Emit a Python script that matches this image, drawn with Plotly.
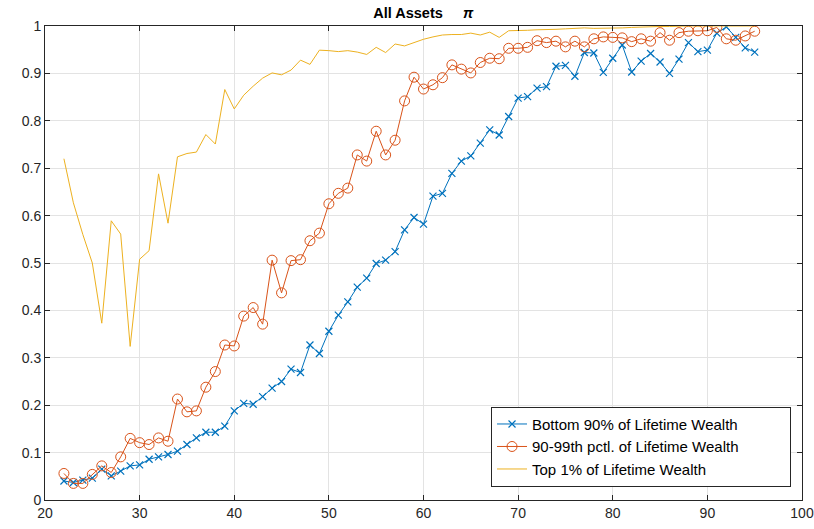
import plotly.graph_objects as go

ages = list(range(22, 96))

bottom90 = [0.040, 0.037, 0.042, 0.046, 0.065, 0.051, 0.061, 0.072, 0.074, 0.086,
            0.091, 0.096, 0.103, 0.117, 0.131, 0.143, 0.143, 0.156, 0.188, 0.204,
            0.202, 0.218, 0.236, 0.250, 0.276, 0.269, 0.327, 0.309, 0.356, 0.390,
            0.418, 0.449, 0.468, 0.499, 0.506, 0.524, 0.570, 0.596, 0.582, 0.641,
            0.647, 0.689, 0.715, 0.726, 0.753, 0.781, 0.770, 0.809, 0.848, 0.851,
            0.869, 0.872, 0.915, 0.917, 0.894, 0.944, 0.943, 0.902, 0.932, 0.960,
            0.903, 0.926, 0.942, 0.924, 0.900, 0.930, 0.965, 0.946, 0.949, 0.985,
            0.998, 0.976, 0.954, 0.945]

pctl90_99 = [0.056, 0.035, 0.035, 0.054, 0.072, 0.058, 0.091, 0.130, 0.121, 0.117,
             0.131, 0.124, 0.213, 0.186, 0.188, 0.238, 0.271, 0.327, 0.325, 0.388,
             0.406, 0.371, 0.506, 0.437, 0.505, 0.507, 0.547, 0.563, 0.625, 0.647,
             0.658, 0.728, 0.715, 0.778, 0.728, 0.759, 0.842, 0.892, 0.867, 0.876,
             0.891, 0.918, 0.909, 0.901, 0.923, 0.932, 0.931, 0.953, 0.953, 0.955,
             0.969, 0.965, 0.968, 0.956, 0.968, 0.956, 0.973, 0.977, 0.976, 0.975,
             0.967, 0.973, 0.968, 0.986, 0.970, 0.986, 0.989, 0.990, 0.990, 0.997,
             0.973, 0.970, 0.979, 0.989]

top1 = [0.720, 0.627, 0.560, 0.500, 0.373, 0.589, 0.561, 0.324, 0.508, 0.526,
        0.688, 0.584, 0.724, 0.731, 0.734, 0.771, 0.751, 0.866, 0.825, 0.854,
        0.873, 0.890, 0.901, 0.897, 0.907, 0.928, 0.919, 0.949, 0.948, 0.946,
        0.948, 0.945, 0.940, 0.955, 0.944, 0.962, 0.958, 0.965, 0.972, 0.977,
        0.981, 0.982, 0.982, 0.985, 0.981, 0.987, 0.976, 0.990, 0.990, 0.991,
        0.992, 0.992, 0.993, 0.994, 0.995, 0.996, 0.995, 0.995, 0.996, 0.996,
        0.997, 0.998, 0.999, 0.999, 0.999, 1.000, 1.000, 1.000, 1.000, 1.000,
        1.000, 1.000, 1.000, 1.000]

names = ["Bottom 90% of Lifetime Wealth",
         "90-99th pctl. of Lifetime Wealth",
         "Top 1% of Lifetime Wealth"]

BLUE = "#0072BD"
ORANGE = "#D95319"
YELLOW = "#EDB120"
FONT = "Liberation Sans, Arial, sans-serif"

# MATLAB legend boxes leave empty room after the text
PAD = "\u00a0" * 11

fig = go.Figure()
fig.add_trace(go.Scatter(
    x=ages, y=bottom90, mode="lines+markers", name=names[0] + PAD,
    line=dict(color=BLUE, width=1),
    marker=dict(symbol="x-thin", size=7, line=dict(color=BLUE, width=1.2)),
))
fig.add_trace(go.Scatter(
    x=ages, y=pctl90_99, mode="lines+markers", name=names[1] + PAD,
    line=dict(color=ORANGE, width=1),
    marker=dict(symbol="circle-open", size=10, color=ORANGE, line=dict(width=1)),
))
fig.add_trace(go.Scatter(
    x=ages, y=top1, mode="lines", name=names[2] + PAD,
    line=dict(color=YELLOW, width=1),
))

axis_style = dict(
    showgrid=True, gridcolor="#e3e3e3", gridwidth=1,
    showline=True, linecolor="#262626", linewidth=1, mirror="ticks",
    ticks="inside", ticklen=5, tickcolor="#262626",
    tickfont=dict(family=FONT, size=14, color="#262626"),
    zeroline=False, automargin=False,
)

fig.update_xaxes(range=[20, 100], dtick=10, tick0=20, **axis_style)
fig.update_yaxes(range=[0, 1], dtick=0.1, tick0=0, **axis_style)

fig.update_layout(
    width=814, height=529,
    margin=dict(l=45, r=12, t=26, b=29),
    paper_bgcolor="white", plot_bgcolor="white",
    font=dict(family=FONT, color="#262626"),
    title=dict(text="<b>All Assets     <i>π</i></b>", x=0.52, xanchor="center",
               y=0.975, yanchor="middle", font=dict(family=FONT, size=14.5, color="black")),
    legend=dict(
        x=0.9855, y=0.028, xanchor="right", yanchor="bottom",
        bgcolor="white", bordercolor="#262626", borderwidth=1,
        font=dict(family=FONT, size=15, color="black"),
        tracegroupgap=0, itemwidth=30,
    ),
    showlegend=True,
)

# the page's default body margin would shift the figure by 8px
fig.write_html("out.html", config={"displayModeBar": False},
               post_script="document.body.style.margin = '0';")
